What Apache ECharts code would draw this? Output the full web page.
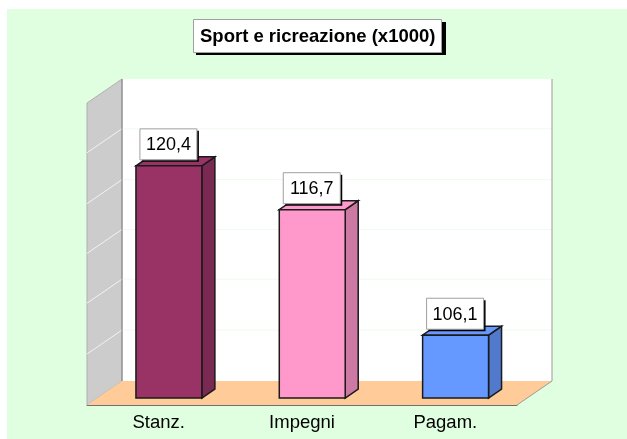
<!DOCTYPE html>
<html>
<head>
<meta charset="utf-8">
<script src="https://cdn.jsdelivr.net/npm/echarts@6/dist/echarts.min.js"></script>
<style>
html, body { margin: 0; padding: 0; background: #FFFFFF; }
/* the picture has a white strip on its left and top edge */
#main { width: 627px; height: 439px; background: linear-gradient(#E0FFE0, #E0FFE0) 7px 9px / 620px 430px no-repeat; }
</style>
</head>
<body>
<div id="main"></div>
<script>
var titleText = 'Sport e ricreazione (x1000)';
var categories = ['Stanz.', 'Impegni', 'Pagam.'];
var values = [120.4, 116.7, 106.1];
var gridValues = [105.1, 109.4, 113.6, 117.8, 122.1];
var faceColors = ['#993366', '#FF99CC', '#6699FF'];
var sideColors = ['#7A2952', '#CC7AA3', '#527ACC'];

var axisMin = 100.8;
var axisMax = 126.3;
var font = '"Liberation Sans", Arial, sans-serif';

// depth of the box, and where the bars stand inside it
var depthX = 35, depthY = -24;
var barX = 10.25, barY = -7;
var barDepthX = 13, barDepthY = -9;

var myChart = echarts.init(document.getElementById('main'));

function poly(points, fill, stroke, width) {
    return {
        type: 'polygon',
        shape: { points: points },
        style: { fill: fill, stroke: stroke || null, lineWidth: width || 0 }
    };
}

function line(x1, y1, x2, y2, color) {
    return {
        type: 'line',
        shape: { x1: x1, y1: y1, x2: x2, y2: y2 },
        style: { stroke: color, lineWidth: 1 }
    };
}

// walls, floor and grid lines of the 3d box
function renderBox(params, api) {
    var c = params.coordSys;
    var l = c.x, r = c.x + c.width, t = c.y, b = c.y + c.height;
    var items = [
        poly([[l + depthX, t + depthY], [r + depthX, t + depthY], [r + depthX, b + depthY], [l + depthX, b + depthY]], '#FFFFFF'),
        poly([[l, t], [l + depthX, t + depthY], [l + depthX, b + depthY], [l, b]], '#CCCCCC', '#B0B0B0', 1),
        poly([[l, b], [l + depthX, b + depthY], [r + depthX, b + depthY], [r, b]], '#FFCC99')
    ];
    gridValues.forEach(function (v) {
        var y = api.coord([0, v])[1];
        items.push(line(l, y, l + depthX, y + depthY, '#F0F4F0'));
        items.push(line(l + depthX, y + depthY, r + depthX, y + depthY, '#EEFBEE'));
    });
    items.push(line(l + depthX, t + depthY, l + depthX, b + depthY, '#808080'));
    items.push(line(r + depthX, t + depthY, r + depthX, b + depthY, '#999999'));
    items.push(line(r, b, r + depthX, b + depthY, '#999999'));
    return { type: 'group', children: items };
}

function renderBar(params, api) {
    var i = api.value(0);
    var top = api.coord([i, api.value(1)]);
    var base = api.coord([i, axisMin]);
    var w = api.size([1, 0])[0] * 0.46;
    var x1 = top[0] - w / 2 + barX, x2 = x1 + w;
    var y1 = top[1] + barY, y2 = base[1] + barY;
    var dark = '#1A1A1A';
    var label = api.value(1).toFixed(1).replace('.', ',');
    var cx = (x1 + x2) / 2 - 0.5;
    var boxW = 57, boxH = 31, boxB = y1 - 6;
    return {
        type: 'group',
        children: [
            poly([[x2, y1], [x2 + barDepthX, y1 + barDepthY], [x2 + barDepthX, y2 + barDepthY], [x2, y2]], sideColors[i], dark, 1.5),
            poly([[x1, y1], [x1 + barDepthX, y1 + barDepthY], [x2 + barDepthX, y1 + barDepthY], [x2, y1]], faceColors[i], dark, 1.5),
            poly([[x1, y1], [x2, y1], [x2, y2], [x1, y2]], faceColors[i], dark, 1.5),
            {
                type: 'rect',
                shape: { x: cx - boxW / 2 + 2, y: boxB - boxH + 2, width: boxW, height: boxH },
                style: { fill: '#000000' }
            },
            {
                type: 'rect',
                shape: { x: cx - boxW / 2, y: boxB - boxH, width: boxW, height: boxH },
                style: { fill: '#FFFFFF', stroke: '#A0A0A0', lineWidth: 1 }
            },
            {
                type: 'text',
                style: {
                    x: cx, y: boxB - boxH / 2 + 1,
                    text: label,
                    fill: '#000000',
                    font: '18px ' + font,
                    align: 'center',
                    verticalAlign: 'middle'
                }
            }
        ]
    };
}

var option = {
    backgroundColor: 'transparent',
    animation: false,
    // black offset behind the title box
    graphic: {
        elements: [{
            type: 'rect',
            z: 0,
            shape: { x: 196, y: 22, width: 250, height: 33 },
            style: { fill: '#000000' }
        }]
    },
    title: {
        text: titleText,
        left: 193,
        top: 19,
        padding: [8, 6, 7, 7],
        backgroundColor: '#FFFFFF',
        borderColor: '#A0A0A0',
        borderWidth: 1,
        textStyle: { color: '#000000', fontFamily: font, fontWeight: 'bold', fontSize: 18.5 }
    },
    grid: { left: 87, top: 103, width: 430, height: 302 },
    xAxis: {
        type: 'category',
        data: categories,
        axisLine: { lineStyle: { color: '#707070', width: 1 } },
        axisTick: { show: false },
        axisLabel: { color: '#000000', fontFamily: font, fontSize: 18.5, margin: 8 }
    },
    yAxis: {
        type: 'value',
        min: axisMin,
        max: axisMax,
        axisLine: { show: true, lineStyle: { color: '#808080', width: 1 } },
        axisTick: { show: false },
        axisLabel: { show: false },
        splitLine: { show: false }
    },
    series: [
        {
            type: 'custom',
            silent: true,
            clip: false,
            z: 1,
            data: [[0, axisMin]],
            renderItem: renderBox
        },
        {
            type: 'custom',
            silent: true,
            clip: false,
            z: 2,
            encode: { x: 0, y: 1 },
            data: values.map(function (v, i) { return [i, v]; }),
            renderItem: renderBar
        }
    ]
};
myChart.setOption(option);
</script>
</body>
</html>
